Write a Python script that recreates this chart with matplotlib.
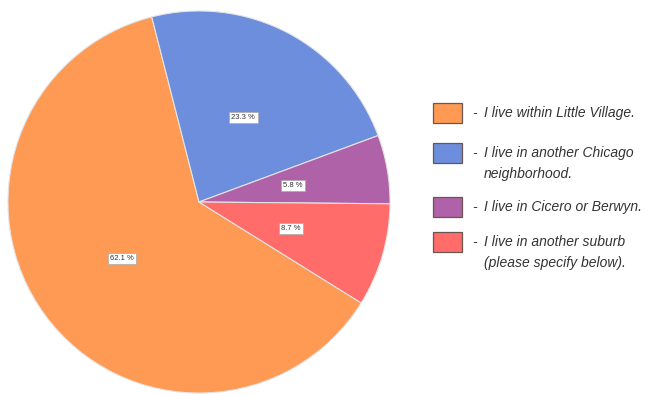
import matplotlib
matplotlib.use("Agg")
import matplotlib.pyplot as plt
from matplotlib.patches import Rectangle
import numpy as np

categories = ["I live within Little Village.",
              "I live in another Chicago\nneighborhood.",
              "I live in Cicero or Berwyn.",
              "I live in another suburb\n(please specify below)."]
values = [62.1, 23.3, 5.8, 8.7]
pct_labels = ["62.1 %", "23.3 %", "5.8 %", "8.7 %"]
colors = ["#FF9A55", "#6C8EDC", "#B062A9", "#FF6C6A"]

W, H = 654, 396
fig = plt.figure(figsize=(W / 100, H / 100), dpi=100)
cx, cy, r = 199, 202, 192
ax = fig.add_axes([(cx - r) / W, (H - cy - r) / H, 2 * r / W, 2 * r / H])
wedges, _ = ax.pie(values, colors=colors, startangle=328.1, counterclock=False,
                   wedgeprops=dict(edgecolor="#e4e4e4", linewidth=0.8))
ax.set_xlim(-1.005, 1.005)
ax.set_ylim(-1.005, 1.005)
ax.set_aspect('equal')
for w, lab in zip(wedges, pct_labels):
    mid = np.deg2rad((w.theta1 + w.theta2) / 2)
    ax.text(0.5 * np.cos(mid), 0.5 * np.sin(mid), lab, ha='center', va='center',
            fontsize=5.5, family='Liberation Sans', color='#333333',
            bbox=dict(boxstyle='square,pad=0.3', fc='white', ec='#aaaaaa', lw=0.5))

# legend drawn manually
sw_top = [103, 143, 197, 232]
fs = 10
for top, col, txt in zip(sw_top, colors, categories):
    fig.patches.append(Rectangle((433 / W, 1 - (top + 20) / H), 29 / W, 20 / H,
                                 transform=fig.transFigure, facecolor=col,
                                 edgecolor='#6a5550', linewidth=0.9))
    fig.text(472 / W, 1 - (top + 10) / H, "-", ha='left', va='center',
             fontsize=fs, family='Liberation Sans', style='italic', color='#333333')
    fig.text(484 / W, 1 - (top + 3) / H, txt, ha='left', va='top',
             fontsize=fs, family='Liberation Sans', style='italic', color='#333333',
             linespacing=1.6)

fig.savefig("out.png", dpi=100)
